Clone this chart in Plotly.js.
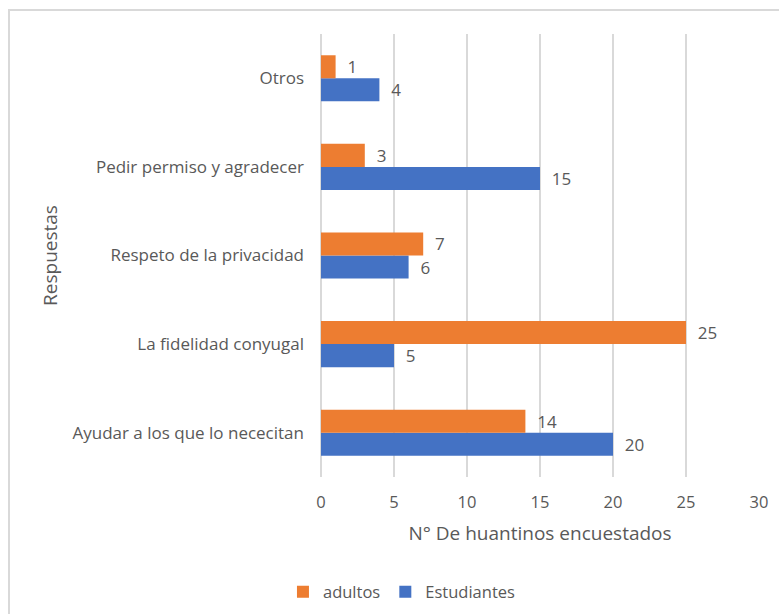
<!DOCTYPE html>
<html>
<head>
<meta charset="utf-8">
<script src="https://cdn.plot.ly/plotly-3.0.1.min.js"></script>
<style>
  html, body { margin: 0; padding: 0; background: #fff; }
  #wrap { position: relative; width: 779px; height: 614px; overflow: hidden; }
  #frame { position: absolute; left: 8px; top: 9px; width: 800px; height: 700px;
           border-left: 2px solid #d9d9d9; border-top: 2px solid #d9d9d9; pointer-events: none; }
  #chart { position: absolute; left: 0; top: 0; width: 779px; height: 614px; }
</style>
</head>
<body>
<div id="wrap">
  <div id="chart"></div>
  <div id="frame"></div>
</div>
<script>
const categories = [
  "Ayudar a los que lo nececitan",
  "La fidelidad conyugal",
  "Respeto de la privacidad",
  "Pedir permiso y agradecer",
  "Otros"
];
const adultos = [14, 25, 7, 3, 1];
const estudiantes = [20, 5, 6, 15, 4];
const xTicks = [0, 5, 10, 15, 20, 25, 30];

const font = "'Open Sans', sans-serif";
const grey = "#595959";

const traces = [
  {
    type: "bar", orientation: "h", name: "Estudiantes",
    x: estudiantes, y: categories,
    marker: { color: "#4472c4" },
    text: estudiantes.map(v => "  " + v), textposition: "outside",
    textfont: { family: font, size: 17, color: grey },
    cliponaxis: false, hoverinfo: "skip"
  },
  {
    type: "bar", orientation: "h", name: "adultos",
    x: adultos, y: categories,
    marker: { color: "#ed7d31" },
    text: adultos.map(v => "  " + v), textposition: "outside",
    textfont: { family: font, size: 17, color: grey },
    cliponaxis: false, hoverinfo: "skip"
  }
];

const layout = {
  width: 779, height: 614,
  margin: { l: 321, r: 20, t: 34, b: 137 },
  paper_bgcolor: "#fff", plot_bgcolor: "#fff",
  font: { family: font, size: 17, color: grey },
  barmode: "group", bargap: 0.48, bargroupgap: 0,
  showlegend: true,
  legend: {
    orientation: "h", traceorder: "reversed",
    x: 0.516, xref: "container", xanchor: "center",
    y: 22 / 614, yref: "container", yanchor: "middle",
    font: { family: font, size: 16.5, color: grey },
    itemwidth: 30
  },
  xaxis: {
    range: [0, 30], tickvals: xTicks, ticktext: xTicks.map(String),
    showgrid: true, gridcolor: "#d9d9d9", gridwidth: 1.5,
    zeroline: true, zerolinecolor: "#d9d9d9", zerolinewidth: 1.5,
    showline: false, ticks: "", ticklabelstandoff: 13,
    tickfont: { family: font, size: 16.5, color: grey },
    title: { text: "N° De huantinos encuestados", font: { family: font, size: 19, color: grey }, standoff: 15 },
    fixedrange: true
  },
  yaxis: {
    type: "category", categoryorder: "array", categoryarray: categories,
    showgrid: false, zeroline: false, showline: false, ticks: "",
    ticklabelstandoff: 16,
    tickfont: { family: font, size: 17, color: grey },
    title: { text: "Respuestas", font: { family: font, size: 19, color: grey }, standoff: 9 },
    fixedrange: true
  }
};

Plotly.newPlot("chart", traces, layout, { staticPlot: true, displayModeBar: false });
</script>
</body>
</html>
